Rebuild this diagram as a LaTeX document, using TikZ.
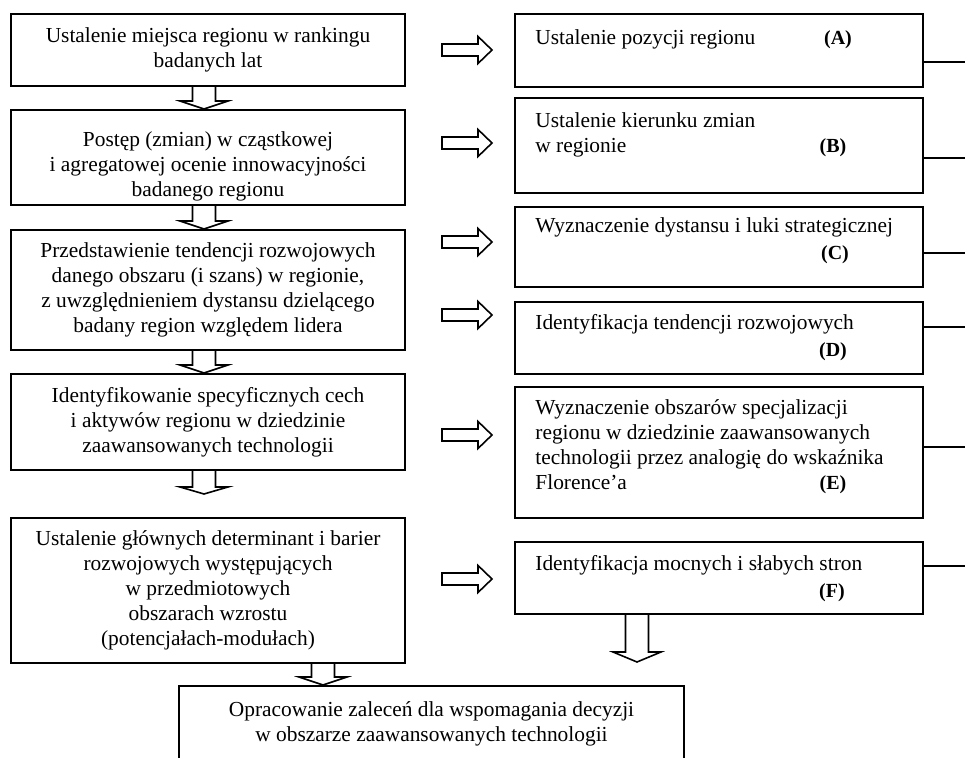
\documentclass[tikz,border=0pt]{standalone}
\usepackage{fontspec}
\setmainfont{Liberation Serif}
\usetikzlibrary{positioning, calc}
\tikzstyle{lbox} = [draw, line width=1pt, inner sep=0pt, align=center, minimum width=197pt]
\tikzstyle{rbox} = [draw, line width=1pt, inner sep=0pt, minimum width=204pt]
\tikzstyle{rtext} = [anchor=base west, align=left, inner sep=0pt]
\tikzstyle{tag} = [anchor=base, inner sep=0pt, font=\bfseries]
\tikzstyle{blockarrow} = [draw, line width=0.8pt, line join=miter]
\tikzstyle{link} = [draw, line width=0.8pt]
\newcommand{\RightArrow}[1]{%
	\draw[blockarrow] (#1) ++(0,-6) -- ++(36,0) -- ++(0,-7.5) -- ++(14,13.5) -- ++(-14,13.5) -- ++(0,-7.5) -- ++(-36,0) -- cycle;%
}
\newcommand{\DownArrow}[4]{%
	\coordinate (ax) at (#1,0);
	\draw[blockarrow] ($(ax |- #2)+(-11.5,0)$) -- ($(ax |- #3)+(-11.5,-#4)$) -- ($(ax |- #3)+(-24,-#4)$) -- (ax |- #3) -- ($(ax |- #3)+(24,-#4)$) -- ($(ax |- #3)+(11.5,-#4)$) -- ($(ax |- #2)+(11.5,0)$);%
}
\begin{document}
\begin{tikzpicture}[x=0.5pt, y=-0.5pt, font=\fontsize{10.7}{12.5}\selectfont]
\clip (0,0) rectangle (965,758);
\node[lbox, minimum height=36pt] (l1) at (208,50) {Ustalenie miejsca regionu w rankingu\\badanych lat};
\node[lbox, minimum height=47.5pt] (l2) at (208,157.5) {};
\node[align=center, inner sep=0pt] (l2t) at (208,166) {Postęp (zmian) w cząstkowej\\i agregatowej ocenie innowacyjności\\badanego regionu};
\node[lbox, minimum height=60pt] (l3) at (208,290) {Przedstawienie tendencji rozwojowych\\danego obszaru (i szans) w regionie,\\z uwzględnieniem dystansu dzielącego\\badany region względem lidera};
\node[lbox, minimum height=48pt] (l4) at (208,422) {Identyfikowanie specyficznych cech\\i aktywów regionu w dziedzinie\\zaawansowanych technologii};
\node[lbox, minimum height=72.5pt] (l5) at (208,590.5) {Ustalenie głównych determinant i barier\\rozwojowych występujących\\w przedmiotowych\\obszarach wzrostu\\(potencjałach-modułach)};
\node[lbox, minimum width=252.5pt, minimum height=37.5pt] (lf) at (431.5,723.5) {Opracowanie zaleceń dla wspomagania decyzji\\w obszarze zaawansowanych technologii};

\node[rbox, minimum height=36.5pt] (rA) at (719,50.5) {};
\node[rbox, minimum height=47.5pt] (rB) at (719,145.5) {};
\node[rbox, minimum height=40pt] (rC) at (719,247) {};
\node[rbox, minimum height=36pt] (rD) at (719,338) {};
\node[rbox, minimum height=65.5pt] (rE) at (719,452.5) {};
\node[rbox, minimum height=36pt] (rF) at (719,578) {};

\node[rtext] (tA) at (535,45) {Ustalenie pozycji regionu};
\node[tag] (gA) at (838,45) {(A)};
\node[rtext] (tB) at (535,153) {Ustalenie kierunku zmian\\w regionie};
\node[tag] (gB) at (833,153) {(B)};
\node[rtext] (tC) at (535,233) {Wyznaczenie dystansu i luki strategicznej};
\node[tag] (gC) at (835,260) {(C)};
\node[rtext] (tD) at (535,330) {Identyfikacja tendencji rozwojowych};
\node[tag] (gD) at (833,357) {(D)};
\node[rtext] (tE) at (535,490) {Wyznaczenie obszarów specjalizacji\\regionu w dziedzinie zaawansowanych\\technologii przez analogię do wskaźnika\\Florence’a};
\node[tag] (gE) at (833,490) {(E)};
\node[rtext] (tF) at (535,571) {Identyfikacja mocnych i słabych stron};
\node[tag] (gF) at (832,598) {(F)};

\coordinate (t4) at (0,494);
\coordinate (tR) at (0,662);
\DownArrow{204}{l1.south}{l2.north}{8}
\DownArrow{204}{l2.south}{l3.north}{8}
\DownArrow{204}{l3.south}{l4.north}{8}
\DownArrow{204}{l4.south}{t4}{7}
\DownArrow{323}{l5.south}{lf.north}{8}
\DownArrow{637}{rF.south}{tR}{10}

\coordinate (p1) at (442,50);
\coordinate (p2) at (442,143);
\coordinate (p3) at (442,242);
\coordinate (p4) at (442,315);
\coordinate (p5) at (442,435);
\coordinate (p6) at (442,579);
\foreach \p in {p1,p2,p3,p4,p5,p6}{
	\RightArrow{\p}
}

\coordinate (eA) at (965,62);
\coordinate (eB) at (965,158);
\coordinate (eC) at (965,253);
\coordinate (eD) at (965,327);
\coordinate (eE) at (965,447);
\coordinate (eF) at (965,566);
\draw[link] (eA -| rA.east) -- (eA);
\draw[link] (eB -| rB.east) -- (eB);
\draw[link] (eC -| rC.east) -- (eC);
\draw[link] (eD -| rD.east) -- (eD);
\draw[link] (eE -| rE.east) -- (eE);
\draw[link] (eF -| rF.east) -- (eF);
\end{tikzpicture}
\end{document}
